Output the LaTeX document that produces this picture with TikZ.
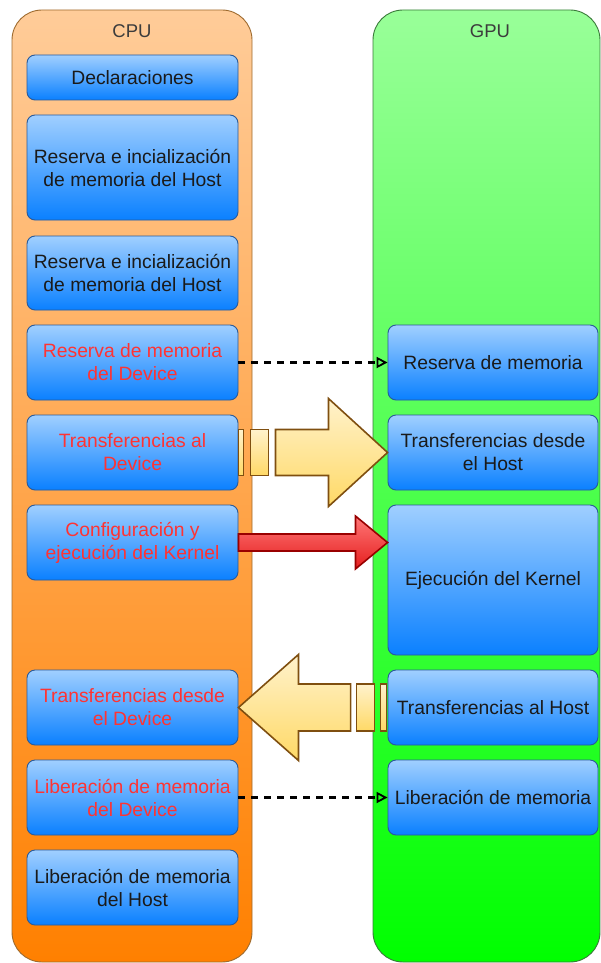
\documentclass[tikz,border=0pt]{standalone}
\usepackage{fontspec}
\setmainfont{Liberation Sans}
\usetikzlibrary{arrows.meta,calc}

\definecolor{cpuTop}{HTML}{FFCC99}
\definecolor{cpuBot}{HTML}{FF8000}
\definecolor{cpuLine}{HTML}{9E6B2F}
\definecolor{gpuTop}{HTML}{99FF99}
\definecolor{gpuBot}{HTML}{00FF00}
\definecolor{gpuLine}{HTML}{3A7A3A}
\definecolor{boxTop}{HTML}{A0CFFF}
\definecolor{boxBot}{HTML}{0A80FF}
\definecolor{boxLine}{HTML}{2A5A99}
\definecolor{ylwTop}{HTML}{FFF2CC}
\definecolor{ylwBot}{HTML}{FFD966}
\definecolor{ylwLine}{HTML}{7F4F10}
\definecolor{redTop}{HTML}{FF7777}
\definecolor{redBot}{HTML}{E51E1E}
\definecolor{redLine}{HTML}{990000}
\definecolor{hot}{HTML}{FF3333}
\definecolor{ink}{HTML}{1A1A1A}

\tikzset{
  lane/.style={draw, line width=0.9pt, rounded corners=30pt, minimum width=#1, minimum height=952pt, inner sep=0pt},
  stepbox/.style={draw=boxLine, line width=0.9pt, rounded corners=8pt,
    top color=boxTop, bottom color=boxBot, minimum width=#1,
    align=center, inner sep=0pt, text=ink,
    font=\fontsize{19.3}{23}\selectfont},
  stepbox/.default=211pt,
  hotbox/.style={stepbox, text=hot},
  lanetitle/.style={font=\fontsize{18.5}{22}\selectfont, text=ink!85},
  callink/.style={dash pattern=on 7pt off 6pt, line width=2.4pt,
    -{Triangle[open, length=11pt, width=11pt, line width=1.8pt]}},
  bigarrow/.style={draw=ylwLine, line width=1.6pt, top color=ylwTop, bottom color=ylwBot, line join=miter},
  kernarrow/.style={draw=redLine, line width=1.6pt, top color=redTop, bottom color=redBot, line join=miter}
}

\begin{document}
\begin{tikzpicture}[x=1pt,y=1pt]
\useasboundingbox (0,0) rectangle (601,-963);

% lanes
\node[lane=240pt, top color=cpuTop, bottom color=cpuBot, draw=cpuLine] (cpu) at (132,-486) {};
\node[lane=227pt, top color=gpuTop, bottom color=gpuBot, draw=gpuLine] (gpu) at (486.5,-486) {};
\node[lanetitle] (cputitle) at (132,-31) {CPU};
\node[lanetitle] (gputitle) at (490,-31) {GPU};

% host side
\node[stepbox, minimum height=45pt] (decl) at (132.5,-77.5) {Declaraciones};
\node[stepbox, minimum height=105pt] (resA) at (132.5,-167.5) {Reserva e incialización\\de memoria del Host};
\node[stepbox, minimum height=74pt] (resB) at (132.5,-273) {Reserva e incialización\\de memoria del Host};
\node[hotbox, minimum height=75pt] (rdev) at (132.5,-362.5) {Reserva de memoria\\del Device};
\node[hotbox, minimum height=75pt] (tad) at (132.5,-452.5) {Transferencias al\\Device};
\node[hotbox, minimum height=75pt] (conf) at (132.5,-542.5) {Configuración y\\ejecución del Kernel};
\node[hotbox, minimum height=75pt] (tdd) at (132.5,-707.5) {Transferencias desde\\el Device};
\node[hotbox, minimum height=75pt] (ldev) at (132.5,-797.5) {Liberación de memoria\\del Device};
\node[stepbox, minimum height=75pt] (lhost) at (132.5,-887.5) {Liberación de memoria\\del Host};

% device side
\node[stepbox=210pt, minimum height=75pt] (rm) at (493,-362.5) {Reserva de memoria};
\node[stepbox=210pt, minimum height=75pt] (tdh) at (493,-452.5) {Transferencias desde\\el Host};
\node[stepbox=210pt, minimum height=150pt] (ek) at (493,-580) {Ejecución del Kernel};
\node[stepbox=210pt, minimum height=75pt] (tah) at (493,-707.5) {Transferencias al Host};
\node[stepbox=210pt, minimum height=75pt] (lm) at (493,-797.5) {Liberación de memoria};

% allocation / release calls
\draw[callink] (rdev.east) -- (rm.west);
\draw[callink] (ldev.east) -- (lm.west);

% host to device copy
\draw[bigarrow] ($(tad.east)+(0,23)$) rectangle ($(tad.east)+(5,-23)$);
\draw[bigarrow] ($(tad.east)+(12,23)$) rectangle ($(tad.east)+(30,-23)$);
\draw[bigarrow] ($(tad.east)+(37,23)$) -- ($(tad.east)+(90,23)$) -- ($(tad.east)+(90,54)$)
  -- (tdh.west) -- ($(tad.east)+(90,-54)$) -- ($(tad.east)+(90,-23)$)
  -- ($(tad.east)+(37,-23)$) -- cycle;

% kernel launch
\draw[kernarrow] ($(conf.east)+(0,8.5)$) -- ($(conf.east)+(117,8.5)$) -- ($(conf.east)+(117,26.5)$)
  -- ($(ek.west)+(0,37.5)$) -- ($(conf.east)+(117,-26.5)$) -- ($(conf.east)+(117,-8.5)$)
  -- ($(conf.east)+(0,-8.5)$) -- cycle;

% device to host copy
\draw[bigarrow] ($(tah.west)+(-7,23.5)$) rectangle ($(tah.west)+(-1,-23.5)$);
\draw[bigarrow] ($(tah.west)+(-31,23.5)$) rectangle ($(tah.west)+(-13,-23.5)$);
\draw[bigarrow] ($(tah.west)+(-37,23.5)$) -- ($(tdd.east)+(60,23.5)$) -- ($(tdd.east)+(60,53)$)
  -- (tdd.east) -- ($(tdd.east)+(60,-53)$) -- ($(tdd.east)+(60,-23.5)$)
  -- ($(tah.west)+(-37,-23.5)$) -- cycle;
\end{tikzpicture}
\end{document}
